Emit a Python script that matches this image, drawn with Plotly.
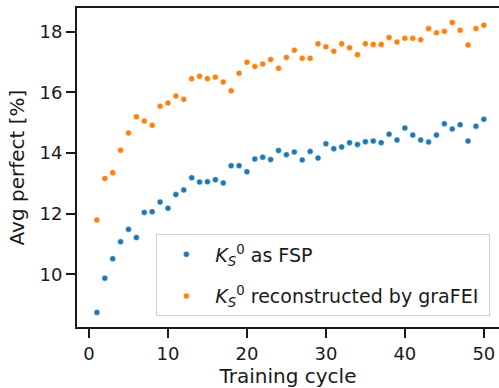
import plotly.graph_objects as go

cycles = list(range(1, 51))
fsp = [8.74, 9.87, 10.51, 11.07, 11.48, 11.21, 12.04, 12.06, 12.38, 12.18,
       12.63, 12.78, 13.18, 13.04, 13.05, 13.12, 13.01, 13.58, 13.58, 13.38,
       13.80, 13.86, 13.78, 14.08, 13.94, 14.03, 13.77, 14.05, 13.83, 14.30,
       14.14, 14.20, 14.34, 14.28, 14.37, 14.39, 14.34, 14.62, 14.43, 14.82,
       14.59, 14.43, 14.36, 14.59, 14.96, 14.79, 14.93, 14.39, 14.88, 15.11]
grafei = [11.79, 13.16, 13.35, 14.09, 14.66, 15.19, 15.05, 14.91, 15.54, 15.65,
          15.88, 15.77, 16.45, 16.53, 16.45, 16.50, 16.34, 16.05, 16.63, 16.99,
          16.85, 16.93, 17.08, 16.79, 17.15, 17.39, 17.12, 17.12, 17.60, 17.50,
          17.35, 17.60, 17.47, 17.24, 17.60, 17.58, 17.58, 17.81, 17.66, 17.78,
          17.78, 17.73, 18.10, 17.96, 18.01, 18.30, 18.05, 17.56, 18.10, 18.21]

label_fsp = "<i>K</i><sub><i>S</i></sub><sup>0</sup> as FSP"
label_grafei = "<i>K</i><sub><i>S</i></sub><sup>0</sup> reconstructed by graFEI&nbsp;"

x_ticks = [0, 10, 20, 30, 40, 50]
y_ticks = [10, 12, 14, 16, 18]

ink = "#1a1a1a"
fig = go.Figure()
fig.add_trace(go.Scatter(x=cycles, y=fsp, mode="markers", name=label_fsp,
                         legendgroup="a",
                         marker=dict(color="#1f77b4", size=6,
                                     line=dict(color="white", width=0.5))))
fig.add_trace(go.Scatter(x=cycles, y=grafei, mode="markers", name=label_grafei,
                         legendgroup="b",
                         marker=dict(color="#ff7f0e", size=6,
                                     line=dict(color="white", width=0.5))))

tick_font = dict(family="DejaVu Sans", size=18, color=ink)
title_font = dict(family="DejaVu Sans", size=20, color=ink)
fig.update_layout(
    width=499, height=388,
    margin=dict(l=77, r=0, t=8, b=61),
    paper_bgcolor="white", plot_bgcolor="white",
    font=dict(family="DejaVu Sans", size=18, color=ink),
    showlegend=True,
    legend=dict(x=0.188, y=0.29, xanchor="left", yanchor="top",
                bgcolor="white", bordercolor="#d0d0d0", borderwidth=1,
                font=dict(family="DejaVu Sans", size=19, color=ink),
                itemwidth=48, tracegroupgap=14),
    xaxis=dict(range=[-1.52, 51.92], tickvals=x_ticks, showgrid=False, zeroline=False,
               showline=True, linecolor=ink, linewidth=2, mirror=True,
               ticks="outside", ticklen=9, tickwidth=2, tickcolor=ink,
               tickfont=tick_font,
               title=dict(text="Training cycle", font=title_font, standoff=1)),
    yaxis=dict(range=[8.26, 18.78], tickvals=y_ticks, showgrid=False, zeroline=False,
               showline=True, linecolor=ink, linewidth=2, mirror=False,
               ticks="outside", ticklen=9, tickwidth=2, tickcolor=ink,
               tickfont=tick_font,
               title=dict(text="Avg perfect [%]", font=title_font, standoff=9)),
)

fig.write_html("out.html")
